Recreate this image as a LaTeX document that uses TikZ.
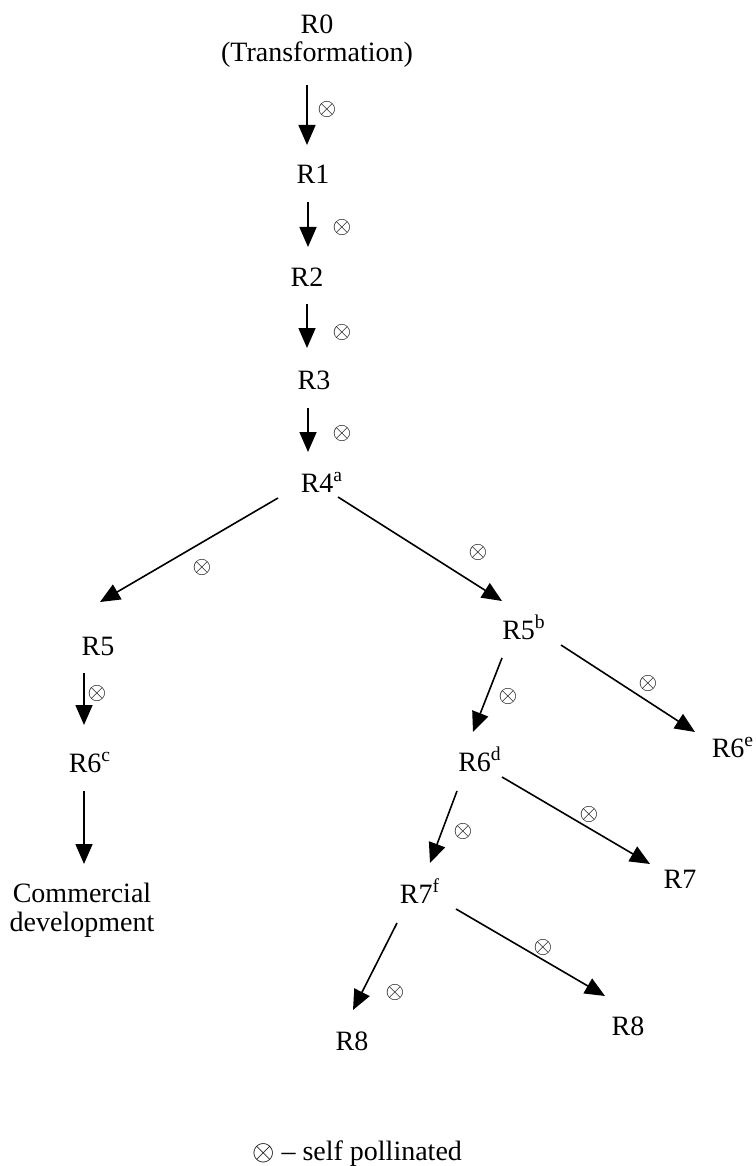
\documentclass[tikz,border=0pt]{standalone}
\usepackage{fontspec}
\setmainfont{Liberation Serif}
\usetikzlibrary{arrows.meta}

\begin{document}
\begin{tikzpicture}[x=0.5pt, y=-0.5pt,
    gen/.style = {anchor=base, inner sep=0pt, font=\fontsize{14}{14}\selectfont},
    flow/.style = {-{Triangle[length=10pt, width=8.5pt]}, line width=0.8pt},
    selfp/.style = {inner sep=0pt, font=\fontsize{11.5}{11.5}\selectfont}]

      \useasboundingbox (0, 0) rectangle (755, 1166);

      % generations
      \node[gen, align=center] (r0) at (317, 62) {R0\\(Transformation)};
      \node[gen] (r1) at (313, 184) {R1};
      \node[gen] (r2) at (307, 286) {R2};
      \node[gen] (r3) at (314, 389) {R3};
      \node[gen] (r4) at (322, 492) {R4\textsuperscript{a}};
      \node[gen] (r5a) at (98, 655) {R5};
      \node[gen] (r6c) at (90, 772) {R6\textsuperscript{c}};
      \node[gen, align=center, font=\fontsize{14}{14.5}\selectfont] (dev) at (82, 931) {Commercial\\development};
      \node[gen] (r5b) at (524, 639) {R5\textsuperscript{b}};
      \node[gen] (r6d) at (480, 771) {R6\textsuperscript{d}};
      \node[gen] (r6e) at (733, 757) {R6\textsuperscript{e}};
      \node[gen] (r7f) at (420, 903) {R7\textsuperscript{f}};
      \node[gen] (r7) at (680, 888) {R7};
      \node[gen] (r8a) at (352, 1050) {R8};
      \node[gen] (r8b) at (628, 1035) {R8};

      % arrows
      \draw[flow] ([shift={(-10, 23)}]r0.base) -- ([shift={(-6, -39)}]r1.base);
      \draw[flow] ([shift={(-5, 18)}]r1.base) -- ([shift={(1, -39)}]r2.base);
      \draw[flow] ([shift={(0, 18)}]r2.base) -- ([shift={(-7, -41)}]r3.base);
      \draw[flow] ([shift={(-6, 19)}]r3.base) -- ([shift={(-14, -40)}]r4.base);
      \draw[flow] ([shift={(-44, 6)}]r4.base) -- ([shift={(2, -53)}]r5a.base);
      \draw[flow] ([shift={(16, 5)}]r4.base) -- ([shift={(-22, -38)}]r5b.base);
      \draw[flow] ([shift={(-14, 18)}]r5a.base) -- ([shift={(-6, -47)}]r6c.base);
      \draw[flow] ([shift={(-6, 19)}]r6c.base) -- ([shift={(2, -67)}]dev.base);
      \draw[flow] ([shift={(-22, 19)}]r5b.base) -- ([shift={(-7, -39)}]r6d.base);
      \draw[flow] ([shift={(37, 6)}]r5b.base) -- ([shift={(-38, -25)}]r6e.base);
      \draw[flow] ([shift={(-23, 20)}]r6d.base) -- ([shift={(10, -40)}]r7f.base);
      \draw[flow] ([shift={(22, 6)}]r6d.base) -- ([shift={(-30, -24)}]r7.base);
      \draw[flow] ([shift={(-23, 20)}]r7f.base) -- ([shift={(1, -40)}]r8a.base);
      \draw[flow] ([shift={(36, 6)}]r7f.base) -- ([shift={(-23, -39)}]r8b.base);

      % self pollination marks
      \node[selfp] (s01) at (327, 110) {$\otimes$};
      \node[selfp] (s12) at (342, 228) {$\otimes$};
      \node[selfp] (s23) at (342, 332) {$\otimes$};
      \node[selfp] (s34) at (342, 433) {$\otimes$};
      \node[selfp] (s45a) at (202, 567) {$\otimes$};
      \node[selfp] (s45b) at (478, 552) {$\otimes$};
      \node[selfp] (s56c) at (97, 693) {$\otimes$};
      \node[selfp] (s56d) at (508, 696) {$\otimes$};
      \node[selfp] (s56e) at (648, 683) {$\otimes$};
      \node[selfp] (s67f) at (463, 831) {$\otimes$};
      \node[selfp] (s67) at (589, 814) {$\otimes$};
      \node[selfp] (s78a) at (395, 992) {$\otimes$};
      \node[selfp] (s78b) at (543, 947) {$\otimes$};

      \node[gen] (key) at (357, 1160) {{\fontsize{14}{14}\selectfont$\otimes$} – self pollinated};

    \end{tikzpicture}
\end{document}
